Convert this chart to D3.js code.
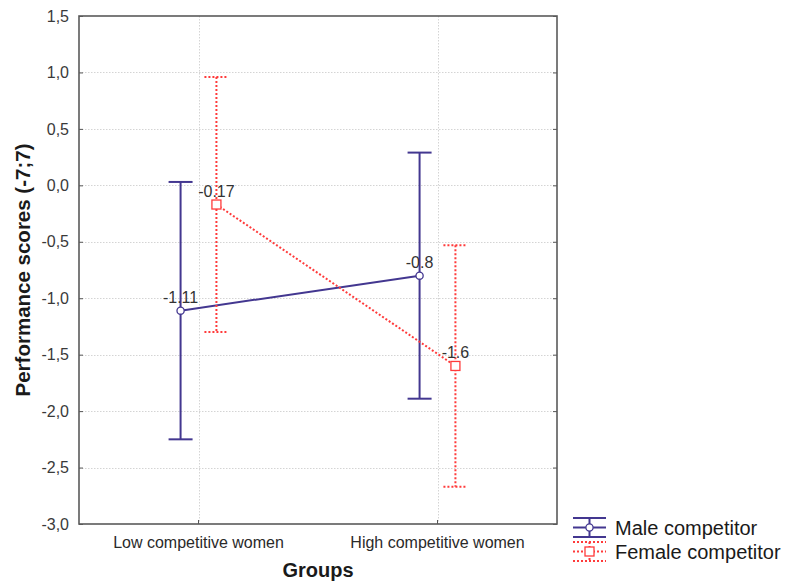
<!DOCTYPE html>
<html>
<head>
<meta charset="utf-8">
<script src="https://cdn.jsdelivr.net/npm/d3@7/dist/d3.min.js"></script>
<style>
  html, body { margin: 0; padding: 0; background: #fff; }
  svg { display: block; font-family: "Liberation Sans", Arial, sans-serif; }
</style>
</head>
<body>
<svg id="chart" width="788" height="582"></svg>
<script>
// Group means and confidence limits per competitor sex
const groups = ["Low competitive women", "High competitive women"];
const seriesNames = ["Male competitor", "Female competitor"];
const maleMeans = [-1.11, -0.8];
const maleUpper = [0.03, 0.29];
const maleLower = [-2.25, -1.89];
const femaleMeans = [-0.17, -1.6];
const femaleUpper = [0.96, -0.53];
const femaleLower = [-1.30, -2.67];
const yTicks = [1.5, 1.0, 0.5, 0.0, -0.5, -1.0, -1.5, -2.0, -2.5, -3.0];

const svg = d3.select("#chart");
const plot = { left: 79, top: 16, right: 557, bottom: 524 };

const x = d3.scaleBand().domain(groups).range([plot.left, plot.right]).padding(0);
const y = d3.scaleLinear().domain([-3.0, 1.5]).range([plot.bottom, plot.top]);
// comma decimals with a plain hyphen for negatives
const fmtTick = v => (v < 0 ? "-" : "") + Math.abs(v).toFixed(1).replace(".", ",");
const off = x.bandwidth() * 0.075;

const series = [
  { name: seriesNames[0], means: maleMeans, upper: maleUpper, lower: maleLower,
    color: "#433790", dash: null, shift: -off, marker: "circle" },
  { name: seriesNames[1], means: femaleMeans, upper: femaleUpper, lower: femaleLower,
    color: "#ff3b3b", dash: "2,2", shift: off, marker: "square" }
];

// grid
const grid = svg.append("g").attr("stroke", "#d4d4d4").attr("stroke-width", 1)
  .attr("stroke-dasharray", "1.5,1.5");
yTicks.filter(t => t < 1.5 && t > -3.0).forEach(t => {
  grid.append("line").attr("x1", plot.left).attr("x2", plot.right)
    .attr("y1", Math.round(y(t)) + 0.5).attr("y2", Math.round(y(t)) + 0.5);
});
groups.forEach(g => {
  const cx = Math.round(x(g) + x.bandwidth() / 2) + 0.5;
  grid.append("line").attr("x1", cx).attr("x2", cx).attr("y1", plot.top).attr("y2", plot.bottom);
});

// axes
const axisLeft = d3.axisLeft(y).tickValues(yTicks).tickSize(-4).tickPadding(10).tickFormat(fmtTick);
const gy = svg.append("g").attr("transform", `translate(${plot.left},0)`).call(axisLeft);
gy.select(".domain").remove();
gy.selectAll(".tick line").attr("stroke", "#555");
gy.selectAll(".tick text").attr("font-size", 16).attr("fill", "#3a3a3a")
  .attr("font-family", "Liberation Sans, Arial, sans-serif");

const axisRight = d3.axisLeft(y).tickValues(yTicks).tickSize(4).tickFormat("");
const gr = svg.append("g").attr("transform", `translate(${plot.right},0)`).call(axisRight);
gr.select(".domain").remove();
gr.selectAll(".tick line").attr("stroke", "#555");

const axisBottom = d3.axisBottom(x).tickSize(-4).tickPadding(13);
const gx = svg.append("g").attr("transform", `translate(0,${plot.bottom})`).call(axisBottom);
gx.select(".domain").remove();
gx.selectAll(".tick line").attr("stroke", "#555");
gx.selectAll(".tick text").attr("font-size", 16).attr("fill", "#2a2a2a")
  .attr("font-family", "Liberation Sans, Arial, sans-serif");

// frame
svg.append("rect").attr("x", plot.left).attr("y", plot.top)
  .attr("width", plot.right - plot.left).attr("height", plot.bottom - plot.top)
  .attr("fill", "none").attr("stroke", "#5a5a5a").attr("stroke-width", 1.6);

// axis titles
svg.append("text").attr("x", (plot.left + plot.right) / 2).attr("y", 577)
  .attr("text-anchor", "middle").attr("font-size", 20).attr("font-weight", "bold")
  .attr("fill", "#1a1a1a").text("Groups");
svg.append("text").attr("transform", `translate(30,${(plot.top + plot.bottom) / 2}) rotate(-90)`)
  .attr("text-anchor", "middle").attr("font-size", 20.5).attr("font-weight", "bold")
  .attr("fill", "#1a1a1a").text("Performance scores (-7;7)");

// series
const capHalf = 12;
series.forEach(s => {
  const g = svg.append("g");
  const px = i => x(groups[i]) + x.bandwidth() / 2 + s.shift;
  const strokeW = 2;
  // error bars
  groups.forEach((grp, i) => {
    const cx = px(i);
    g.append("line").attr("x1", cx).attr("x2", cx)
      .attr("y1", y(s.upper[i])).attr("y2", y(s.lower[i]))
      .attr("stroke", s.color).attr("stroke-width", strokeW).attr("stroke-dasharray", s.dash);
    [s.upper[i], s.lower[i]].forEach(v => {
      g.append("line").attr("x1", cx - capHalf).attr("x2", cx + capHalf)
        .attr("y1", y(v)).attr("y2", y(v))
        .attr("stroke", s.color).attr("stroke-width", strokeW).attr("stroke-dasharray", s.dash);
    });
  });
  // mean line
  const line = d3.line().x((d, i) => px(i)).y(d => y(d));
  g.append("path").datum(s.means).attr("d", line).attr("fill", "none")
    .attr("stroke", s.color).attr("stroke-width", strokeW).attr("stroke-dasharray", s.dash);
  // markers
  s.means.forEach((m, i) => {
    if (s.marker === "circle") {
      g.append("circle").attr("cx", px(i)).attr("cy", y(m)).attr("r", 3.6)
        .attr("fill", "#fff").attr("stroke", s.color).attr("stroke-width", 1.3);
    } else {
      g.append("rect").attr("x", px(i) - 4.5).attr("y", y(m) - 4.5)
        .attr("width", 9).attr("height", 9)
        .attr("fill", "#fff").attr("stroke", s.color).attr("stroke-width", 1.3);
    }
  });
  // value labels
  s.means.forEach((m, i) => {
    g.append("text").attr("x", px(i)).attr("y", y(m) - 8)
      .attr("text-anchor", "middle").attr("font-size", 16).attr("fill", "#333")
      .text(String(m));
  });
});

// legend
const leg = svg.append("g");
series.forEach((s, k) => {
  const top = 518 + k * 24, mid = top + 9.5, bot = top + 19;
  const x0 = 573, x1 = 606, xc = (x0 + x1) / 2;
  const lg = leg.append("g").attr("stroke", s.color).attr("stroke-width", 2)
    .attr("stroke-dasharray", s.dash);
  [top, mid, bot].forEach(yy => lg.append("line").attr("x1", x0).attr("x2", x1).attr("y1", yy).attr("y2", yy));
  lg.append("line").attr("x1", xc).attr("x2", xc).attr("y1", top).attr("y2", bot);
  if (s.marker === "circle") {
    leg.append("circle").attr("cx", xc).attr("cy", mid).attr("r", 3.6)
      .attr("fill", "#fff").attr("stroke", s.color).attr("stroke-width", 1.3);
  } else {
    leg.append("rect").attr("x", xc - 4.5).attr("y", mid - 4.5).attr("width", 9).attr("height", 9)
      .attr("fill", "#fff").attr("stroke", s.color).attr("stroke-width", 1.3);
  }
  leg.append("text").attr("x", 615).attr("y", mid + 7).attr("font-size", 20)
    .attr("fill", "#1a1a1a").text(s.name);
});
</script>
</body>
</html>
